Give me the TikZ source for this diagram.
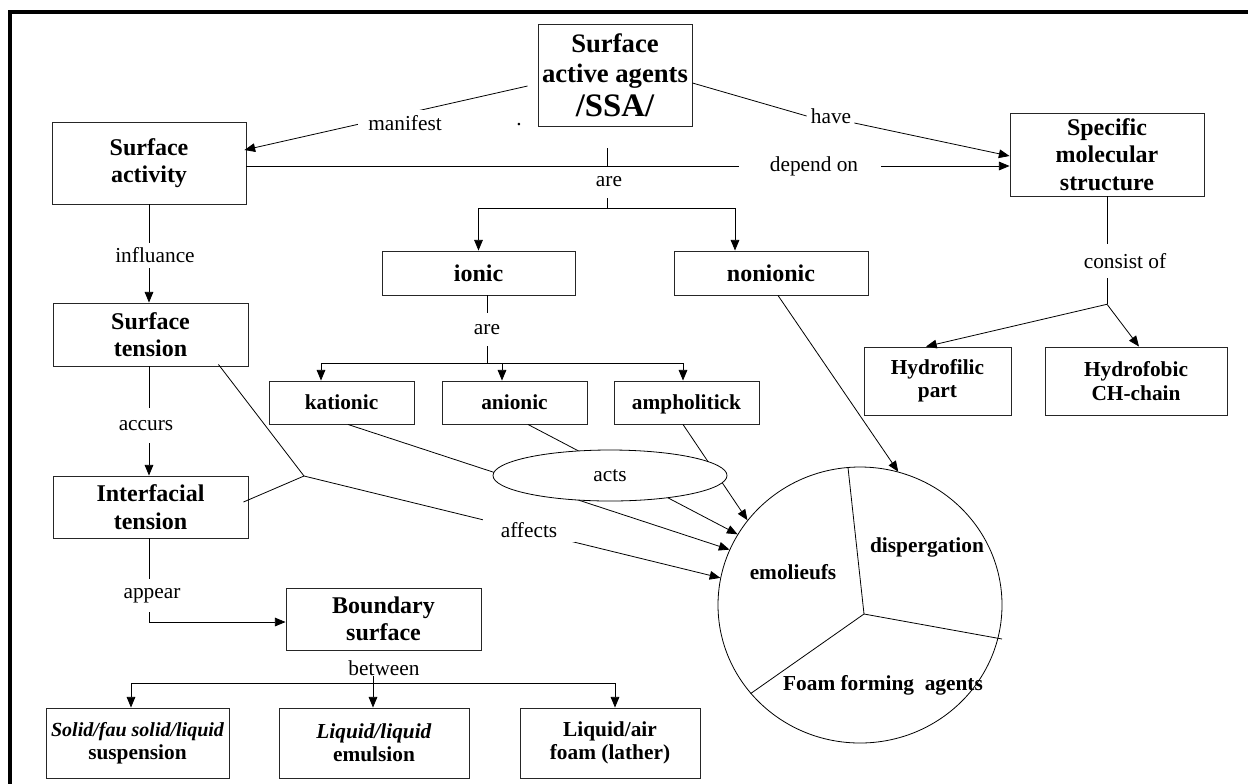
\documentclass[tikz,border=0pt]{standalone}
\usepackage{fontspec}
\setmainfont{Liberation Serif}
\usetikzlibrary{arrows.meta,calc,shapes.geometric}
\begin{document}
\begin{tikzpicture}[x=0.75pt,y=-0.75pt,
  box/.style={draw=black!85,line width=0.7pt,inner sep=0pt,align=center,font=\bfseries\fontsize{18}{20.5}\selectfont},
  sbox/.style={box,font=\bfseries\fontsize{16}{17.5}\selectfont},
  onel/.style={text height=13pt,text depth=0pt},
  sonel/.style={text height=11pt,text depth=0pt},
  lbl/.style={inner sep=0pt,minimum height=24pt,font=\fontsize{16}{18}\selectfont},
  conn/.style={line width=0.6pt},
  arr/.style={conn,-{Triangle[length=8pt,width=6.5pt]}},
  ctext/.style={font=\bfseries\fontsize{16}{18}\selectfont,inner sep=0pt},
]
\fill[white] (0,0) rectangle (1248,783);
\useasboundingbox (0,0) rectangle (1248,783);
% frame
\draw[line width=2.3pt] (10,790) -- (10,12) -- (1255,12);

% boxes
\node[box,minimum width=115.5pt,minimum height=76.5pt,font=\bfseries\fontsize{20}{23}\selectfont] (ssa) at (615,75) {Surface\\active agents\\[2pt]{\fontsize{24.6}{28}\selectfont /SSA/}};
\node[box,minimum width=145.5pt,minimum height=61.5pt] (sact) at (149,163) {Surface\\activity};
\node[box,minimum width=145.5pt,minimum height=62.25pt] (sms) at (1107,154.5) {Specific\\molecular\\structure};
\node[box,onel,minimum width=144.75pt,minimum height=33pt] (ionic) at (478.5,273) {ionic};
\node[box,onel,minimum width=145.5pt,minimum height=33pt] (nonionic) at (771,273) {nonionic};
\node[sbox,sonel,minimum width=108.75pt,minimum height=32.25pt] (kat) at (341.5,402.5) {kationic};
\node[sbox,sonel,minimum width=108.75pt,minimum height=32.25pt] (anion) at (514.5,402.5) {anionic};
\node[sbox,sonel,minimum width=108.75pt,minimum height=32.25pt] (ampho) at (686.5,402.5) {ampholitick};
\node[box,minimum width=146.25pt,minimum height=47.25pt] (stens) at (150.5,334.5) {Surface\\tension};
\node[box,minimum width=146.25pt,minimum height=46.5pt] (itens) at (150.5,507) {Interfacial\\tension};
\node[sbox,minimum width=110.25pt,minimum height=51pt] (hfil) at (937.5,381) {Hydrofilic\\part};
\node[sbox,minimum width=136.5pt,minimum height=51pt] (hfob) at (1136,381) {Hydrofobic\\CH-chain};
\node[box,minimum width=146.25pt,minimum height=46.5pt] (bound) at (383.5,619) {Boundary\\surface};
\node[sbox,minimum width=137.25pt,minimum height=52.5pt] (b1) at (137.5,743) {{\itshape\fontsize{15}{17.5}\selectfont Solid/fau solid/liquid}\\suspension};
\node[sbox,minimum width=142.5pt,minimum height=52.5pt] (b2) at (374,743) {\textit{Liquid/liquid}\\emulsion};
\node[sbox,minimum width=135pt,minimum height=52.5pt] (b3) at (610,743) {Liquid/air\\foam (lather)};

% circle
\node[draw,ellipse,minimum width=213pt,minimum height=207pt,line width=0.6pt,inner sep=0pt] (circ) at (860,605) {};

% manifest
\coordinate (m0) at ($(ssa.west)+(-10,11)$);
\draw[arr] (m0) -- ($(sact.east)+(-2,-13)$);
\node[lbl,fill=white,inner xsep=7.5pt,inner ysep=4pt,minimum height=0pt] (manifest) at (405,123) {manifest};
\node[inner sep=0pt,font=\fontsize{16}{18}\selectfont] (dot) at (519,125) {.};

% have
\node[lbl,minimum height=0pt] (have) at (831,116) {have};
\draw[conn] ($(ssa.east)+(0,8)$) -- ($(have.west)+(-4,0)$);
\draw[arr] ($(have.east)+(3,7)$) -- ($(sms.west)+(0,1.5)$);

% depend on
\node[lbl] (depend) at (814,166) {depend on};
\draw[conn] (sact.east |- depend) -- ($(depend.west)+(-31,0)$);
\draw[arr] ($(depend.east)+(23,0)$) -- (depend -| sms.west);

% are (top)
\coordinate (a0) at ($(ssa.south)+(-8,22)$);
\draw[conn] (a0) -- (a0 |- depend);
\node[lbl] (are1) at (609,182) {are};
\coordinate (bar1) at ($(are1.south -| a0)+(0,10)$);
\draw[conn] (are1.south -| a0) -- (bar1);
\draw[arr] (bar1) -| (ionic.north);
\draw[arr] (bar1) -| ($(nonionic.north)+(-36,0)$);

% ionic are
\node[lbl,minimum height=25pt] (are2) at (487,329.5) {are};
\draw[conn] (ionic.south -| are2) -- (are2.north);
\coordinate (bar2) at ($(are2.south)+(0,17)$);
\draw[conn] (are2.south) -- (bar2);
\draw[arr] (bar2) -| ($(kat.north)+(-20.5,0)$);
\draw[arr] (bar2) -| ($(anion.north)+(-12.5,0)$);
\draw[arr] (bar2) -| ($(ampho.north)+(-3.5,0)$);

% left column
\node[lbl,minimum height=18.75pt] (infl) at (155,255.5) {influance};
\draw[conn] (sact.south) -- (sact.south |- infl.north);
\draw[arr] (sact.south |- infl.south) -- (sact.south |- stens.north);
\node[lbl,minimum height=26.25pt] (accurs) at (146,425.5) {accurs};
\draw[conn] (sact.south |- stens.south) -- (sact.south |- accurs.north);
\draw[arr] (sact.south |- accurs.south) -- (sact.south |- itens.north);
\node[lbl,minimum height=24.75pt] (appear) at (152,595.5) {appear};
\draw[conn] (sact.south |- itens.south) -- (sact.south |- appear.north);
\draw[arr] (sact.south |- appear.south) |- ($(bound.west)+(0,3)$);

% between
\node[lbl,minimum height=12pt] (betw) at (384,668) {between};
\coordinate (bar3) at ($(betw.south)+(-11,7)$);
\draw[conn] (betw.south -| bar3) -- (bar3);
\draw[arr] (bar3) -| ($(b1.north)+(-6.5,0)$);
\draw[arr] (bar3) -- (bar3 |- b2.north);
\draw[arr] (bar3) -| ($(b3.north)+(5,0)$);

% consist of
\node[lbl,minimum height=25.5pt] (consist) at (1125,261) {consist of};
\draw[conn] (sms.south) -- (sms.south |- consist.north);
\coordinate (jn) at ($(sms.south |- consist.south)+(0,26)$);
\draw[conn] (sms.south |- consist.south) -- (jn);
\draw[arr] (jn) -- ($(hfil.north)+(-11.5,0)$);
\draw[arr] (jn) -- ($(hfob.north)+(3,0)$);

% affects
\coordinate (jaff) at (304,476);
\draw[conn] ($(stens.south east)+(-30,-2)$) -- (jaff);
\draw[conn] ($(itens.east)+(-5,-5)$) -- (jaff);
\draw[arr] (jaff) -- (circ.169);
\node[lbl,fill=white,inner xsep=13pt,inner ysep=3pt,minimum height=0pt] (affects) at (529,530) {affects};

% acts
\draw[arr] ($(kat.south)+(6.5,0)$) -- (circ.157.7);
\draw[arr] ($(anion.south)+(13.5,0)$) -- (circ.150.7);
\draw[arr] ($(ampho.south)+(-3.5,0)$) -- (circ.143);
\node[draw,ellipse,fill=white,line width=0.6pt,minimum width=175.5pt,minimum height=38.25pt,inner sep=0pt,font=\fontsize{16}{18}\selectfont] (acts) at (610,475.5) {acts};

% nonionic
\draw[arr] ($(nonionic.south)+(7,0)$) -- (circ.74.3);

% sectors
\coordinate (cc) at ($(circ.center)+(4,9)$);
\draw[conn] (cc) -- (circ.95.4);
\draw[conn] (cc) -- ($(circ.center)+(142,34)$);
\draw[conn] (cc) -- (circ.219.2);
\node[ctext] (disp) at (927,547) {dispergation};
\node[ctext] (emol) at (793,572) {emolieufs};
\node[ctext] (foam) at (883,685) {Foam forming\ \ agents};
\end{tikzpicture}
\end{document}
